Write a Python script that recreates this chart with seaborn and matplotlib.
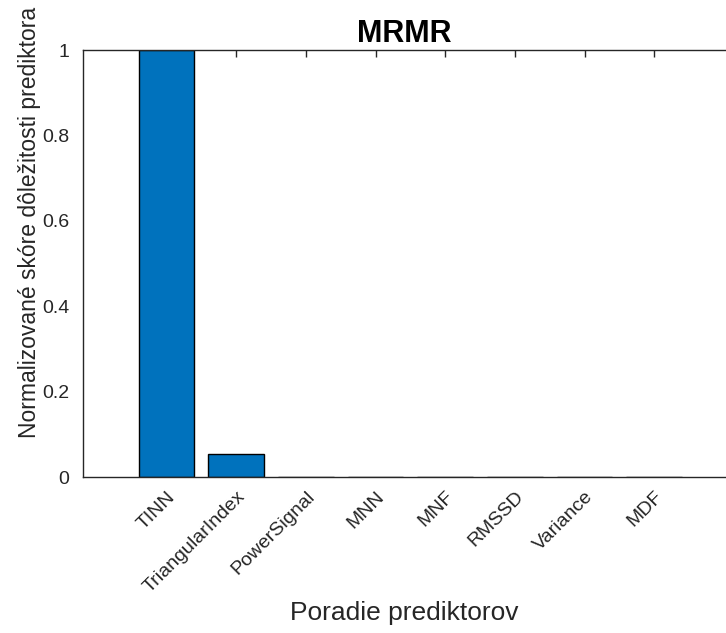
import matplotlib
matplotlib.use("Agg")
import matplotlib.pyplot as plt
import seaborn as sns
import pandas as pd

# poradie prediktorov a normalizované skóre
prediktory = ['TINN', 'TriangularIndex', 'PowerSignal', 'MNN', 'MNF', 'RMSSD', 'Variance', 'MDF']
skore = [1.0, 0.055, 0.0, 0.0, 0.0, 0.0, 0.0, 0.0]

df = pd.DataFrame({'prediktor': prediktory, 'skore': skore})

sns.set_style('white')
plt.rcParams['font.family'] = ['Liberation Sans', 'DejaVu Sans']

fig = plt.figure(figsize=(7.26, 6.33), dpi=100)
ax = fig.add_axes([0.1143, 0.2464, 0.8857, 0.6746])

sns.barplot(data=df, x='prediktor', y='skore', order=prediktory, color='#0072BD',
            saturation=1, width=0.8, edgecolor='black', linewidth=1, ax=ax)

ax.set_xlim(-1.2, 8.03)
ax.set_ylim(0, 1)
ax.set_yticks([0, 0.2, 0.4, 0.6, 0.8, 1])
ax.set_yticklabels(['0', '0.2', '0.4', '0.6', '0.8', '1'])
ax.set_xticks(range(len(prediktory)))
ax.set_xticklabels(prediktory, rotation=45, ha='right', rotation_mode='anchor')

ax.tick_params(axis='x', direction='in', length=5, top=True, pad=8)
ax.tick_params(axis='y', direction='out', length=4, pad=6)
ax.tick_params(axis='both', color='#262626', labelcolor='#262626', labelsize=14, width=1)
for s in ['left', 'bottom', 'top']:
    ax.spines[s].set_color('#262626')
    ax.spines[s].set_linewidth(1)
ax.spines['right'].set_visible(False)

ax.set_title('MRMR', fontsize=22, fontweight='bold', color='black', pad=6)
ax.set_xlabel('Poradie prediktorov', fontsize=19, color='#262626')
ax.xaxis.set_label_coords(0.5, -0.29)
ax.set_ylabel('Normalizované skóre dôležitosti prediktora', fontsize=16.5, color='#262626')
ax.yaxis.set_label_coords(-0.066, 0.597)

fig.savefig('out.png', dpi=100)
